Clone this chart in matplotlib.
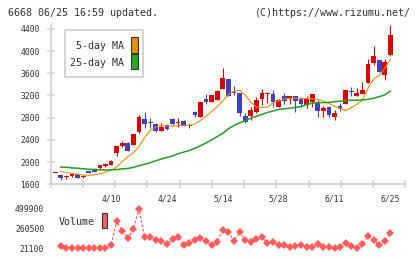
import numpy as np
import matplotlib
matplotlib.use("Agg")
import matplotlib.pyplot as plt
from matplotlib.patches import Rectangle

# ---------------- data ----------------
# candle index -1 is the partial day at the left edge (no volume shown)
opens = [1818, 1760, 1728, 1752, 1780, 1728, 1840, 1858, 1892, 1925, 1955,
         2165, 2295, 2345, 2315, 2548, 2777, 2722, 2687, 2567, 2662,
         2772, 2712, 2740, 2670, 2900, 2819, 3136, 3084, 3120, 3324,
         3497, 3270, 3245, 2830, 2837, 2910, 3144, 3230, 3234, 3000,
         3192, 3138, 3192, 3150, 3030, 3078, 3060, 2927, 2988, 2808,
         3012, 3042, 3288, 3192, 3228, 3432, 3792, 3840, 3564, 3930]
highs = [1822, 1785, 1768, 1810, 1800, 1760, 1845, 1875, 1945, 1982, 2035,
         2290, 2386, 2360, 2510, 2849, 2903, 2800, 2710, 2700, 2680,
         2803, 2795, 2760, 2700, 2920, 3078, 3223, 3211, 3300, 3700,
         3500, 3380, 3245, 2880, 3000, 3170, 3318, 3255, 3300, 3136,
         3250, 3192, 3192, 3180, 3190, 3228, 3120, 3012, 3012, 2940,
         3060, 3300, 3348, 3330, 3444, 3853, 4093, 3840, 3853, 4470]
lows = [1818, 1685, 1700, 1738, 1705, 1718, 1808, 1828, 1875, 1910, 1950,
        2116, 2278, 2200, 2310, 2520, 2610, 2620, 2540, 2560, 2580,
        2670, 2630, 2650, 2620, 2820, 2819, 3048, 3084, 3120, 3324,
        3185, 3210, 2830, 2700, 2750, 2885, 3020, 3070, 2985, 2990,
        3048, 3048, 2903, 2990, 2970, 3000, 2820, 2819, 2820, 2760,
        2915, 3042, 3197, 3192, 3228, 3432, 3751, 3625, 3480, 3912]
closes = [1822, 1716, 1736, 1790, 1720, 1736, 1810, 1830, 1945, 1968, 2015,
          2290, 2345, 2205, 2510, 2815, 2687, 2704, 2561, 2627, 2591,
          2693, 2728, 2664, 2660, 2840, 3078, 3090, 3211, 3282, 3516,
          3197, 3240, 2880, 2723, 2940, 3120, 3252, 3245, 3084, 3114,
          3108, 3192, 3108, 3053, 3138, 3228, 2927, 2976, 2855, 2891,
          2952, 3300, 3255, 3252, 3300, 3774, 3912, 3625, 3804, 4290]

ma5 = [1830, 1815, 1795, 1780, 1768, 1762, 1768, 1790, 1820, 1855,
       1910, 2010, 2100, 2165, 2280, 2440, 2570, 2635, 2660, 2655,
       2650, 2655, 2660, 2660, 2690, 2750, 2825, 2910, 3000, 3100,
       3220, 3280, 3295, 3210, 3080, 2995, 2985, 2990, 3070, 3100,
       3135, 3150, 3150, 3140, 3145, 3140, 3130, 3100, 3055, 3005,
       2970, 2927, 2980, 3040, 3120, 3330, 3495, 3565, 3690, 3850]
ma25 = [1910, 1908, 1895, 1890, 1880, 1870, 1868, 1860, 1858, 1858,
        1865, 1878, 1885, 1905, 1935, 1960, 1990, 2025, 2055, 2085,
        2110, 2150, 2180, 2210, 2250, 2295, 2345, 2400, 2460, 2520,
        2600, 2660, 2705, 2745, 2790, 2825, 2860, 2895, 2920, 2950,
        2960, 2970, 2985, 3000, 3040, 3060, 3070, 3072, 3075, 3090,
        3096, 3110, 3114, 3115, 3118, 3132, 3150, 3180, 3210, 3280]

volume = [60000, 30000, 30000, 30000, 30000, 35000, 30000, 30000, 35000, 69000,
          356000, 240000, 149000, 257000, 500000, 161000, 161000, 133000, 121000, 77000,
          137000, 168000, 69000, 89000, 129000, 156000, 117000, 65000, 109000, 250000,
          225000, 113000, 225000, 129000, 101000, 142000, 161000, 95000, 101000, 69000,
          69000, 45000, 57000, 69000, 45000, 45000, 85000, 41000, 41000, 29500,
          41000, 93000, 53000, 29500, 79000, 172000, 129000, 67000, 117000, 209000]

date_labels = ["4/10", "4/24", "5/14", "5/28", "6/11", "6/25"]
date_index = [9, 19, 29, 39, 49, 59]
price_ticks = [1600, 2000, 2400, 2800, 3200, 3600, 4000, 4400]
vol_ticks = [21100, 260500, 499900]

# ---------------- style ----------------
W, H = 420, 259
MONO = "DejaVu Sans Mono"
RED, BLUE = "#dd0000", "#4040c0"
ORANGE, GREEN = "#f08c00", "#1ea01e"
VOLC = "#ff5c5c"
AXC = "#d2d2d2"
TXT = "#333333"

fig = plt.figure(figsize=(W / 100, H / 100), dpi=100)
fig.patch.set_facecolor("white")


def fx(px):
    return px / W


def fy(py):
    return 1 - py / H


left_px, right_px = 50.7, 405.3
ax = fig.add_axes([fx(left_px), fy(184.3), (right_px - left_px) / W, (184.3 - 25) / H])
vax = fig.add_axes([fx(left_px), fy(253), (right_px - left_px) / W, 48 / H])

xmin, xmax = -1.81, 61.67
xc = np.arange(-1, len(opens) - 1)

# candles
for xi, o, h, l, c in zip(xc, opens, highs, lows, closes):
    col = RED if c >= o else BLUE
    ax.vlines(xi, l, h, color=col, lw=0.8, zorder=3)
    lo, hi = min(o, c), max(o, c)
    if hi - lo < 18:
        mid = (hi + lo) / 2
        lo, hi = mid - 9, mid + 9
    ax.bar(xi, hi - lo, bottom=lo, width=0.85, color=col, lw=0, zorder=4)

xm = np.arange(len(ma5))
ax.plot(xm, ma5, color=ORANGE, lw=0.8, zorder=5)
ax.plot(xm, ma25, color=GREEN, lw=1.1, zorder=5)

ax.set_xlim(xmin, xmax)
ax.set_ylim(1600, 4470)
for s in ["top", "right"]:
    ax.spines[s].set_visible(False)
for s in ["left", "bottom"]:
    ax.spines[s].set_color(AXC)
    ax.spines[s].set_linewidth(1.3)
ax.set_yticks(price_ticks)
ax.set_yticklabels([str(v) for v in price_ticks], fontfamily=MONO, fontsize=5.8, color=TXT)
ax.tick_params(axis="y", direction="inout", length=5.5, width=1.1, color=AXC, pad=5.2)
ax.set_xticks(np.linspace(xmin, xmax, 12))
ax.set_xticklabels([])
ax.tick_params(axis="x", which="major", direction="inout", length=6, width=1.1, color=AXC)
ax.set_xticks(date_index, minor=True)
ax.set_xticklabels(date_labels, minor=True, fontfamily=MONO, fontsize=5.8, color=TXT)
ax.tick_params(axis="x", which="minor", length=0, pad=7.0)
ax.set_facecolor("none")

# volume
xv = np.arange(len(volume))
vax.plot(xv, volume, color=VOLC, lw=0.9, ls=(0, (2, 1.5)), marker="D", ms=4.0,
         mec=VOLC, mfc=VOLC, mew=0)
vax.set_xlim(xmin, xmax)
vax.set_ylim(-26780, 547780)
for s in vax.spines.values():
    s.set_visible(False)
vax.set_xticks([])
vax.set_yticks(vol_ticks)
vax.set_yticklabels([str(v) for v in vol_ticks], fontfamily=MONO, fontsize=5.8, color=TXT)
vax.tick_params(axis="y", length=0, pad=4.6)
vax.set_facecolor("none")

# legend box (main)
fig.add_artist(Rectangle((fx(65), fy(77)), 78 / W, 47 / H, transform=fig.transFigure,
                         fc="white", ec="#cccccc", lw=1.2, zorder=10))
fig.text(fx(124.5), fy(46), "5-day MA", ha="right", va="center", fontsize=7.2,
         fontfamily=MONO, color=TXT, zorder=11)
fig.text(fx(124.5), fy(62.5), "25-day MA", ha="right", va="center", fontsize=7.2,
         fontfamily=MONO, color=TXT, zorder=11)
fig.add_artist(Rectangle((fx(131), fy(52.7)), 7 / W, 15.4 / H, transform=fig.transFigure,
                         fc=ORANGE, ec="#333333", lw=0.8, zorder=11))
fig.add_artist(Rectangle((fx(131), fy(69.3)), 7 / W, 15.3 / H, transform=fig.transFigure,
                         fc="#20aa20", ec="#333333", lw=0.8, zorder=11))

# volume legend
fig.text(fx(58.5), fy(222.3), "Volume", ha="left", va="center", fontsize=7.2,
         fontfamily=MONO, color=TXT)
fig.add_artist(Rectangle((fx(101.7), fy(228.3)), 5.6 / W, 15 / H, transform=fig.transFigure,
                         fc="#ff6060", ec="#333333", lw=0.8, zorder=11))

# header
fig.text(fx(8), fy(12.5), "6668 06/25 16:59 updated.", ha="left", va="center",
         fontsize=7.2, fontfamily=MONO, color=TXT)
fig.text(fx(410.5), fy(12.5), "(C)https://www.rizumu.net/", ha="right", va="center",
         fontsize=7.2, fontfamily=MONO, color=TXT)

fig.savefig("out.png", dpi=100, facecolor="white")
